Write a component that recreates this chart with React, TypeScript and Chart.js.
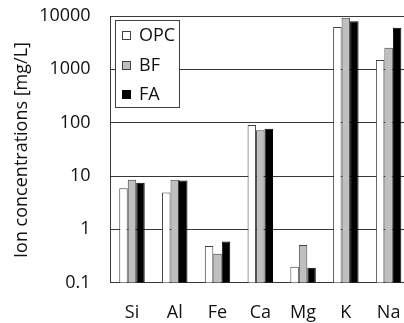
import React, { useEffect, useRef } from "react";
import { Chart, registerables } from "chart.js";

Chart.register(...registerables);

const categories = ["Si", "Al", "Fe", "Ca", "Mg", "K", "Na"];
const opcValues = [5.9, 4.9, 0.49, 90, 0.2, 6200, 1500];
const bfValues = [8.5, 8.5, 0.35, 72, 0.51, 9300, 2550];
const faValues = [7.5, 8.2, 0.59, 77, 0.19, 7950, 6050];
const yTickValues = [0.1, 1, 10, 100, 1000, 10000];
const yTickLabels = ["0.1", "1", "10", "100", "1000", "10000"];
const yTitle = "Ion concentrations [mg/L]";

const FONT = "'Open Sans', sans-serif";
const FS = 18;

const overlayPlugin = {
  id: "overlay",
  afterDraw(chart: any) {
    const ctx = chart.ctx;
    ctx.save();
    // legend box
    const bx = 115.5, by = 20.5, bw = 64, bh = 87;
    ctx.fillStyle = "#ffffff";
    ctx.fillRect(bx, by, bw, bh);
    ctx.strokeStyle = "#404040";
    ctx.lineWidth = 1;
    ctx.strokeRect(bx, by, bw, bh);
    const rows = [35, 65, 94];
    chart.data.datasets.forEach((ds: any, i: number) => {
      const y = rows[i];
      ctx.fillStyle = ds.backgroundColor;
      ctx.fillRect(122, y - 4, 8, 8);
      ctx.strokeStyle = ds.borderColor;
      ctx.strokeRect(122.5, y - 3.5, 8, 8);
      ctx.fillStyle = "#111111";
      ctx.font = `${FS}px ${FONT}`;
      ctx.textAlign = "left";
      ctx.textBaseline = "middle";
      ctx.fillText(ds.label, 139, y + 1);
    });
    // y title
    ctx.translate(22, 150);
    ctx.rotate(-Math.PI / 2);
    ctx.fillStyle = "#111111";
    ctx.font = `${FS}px ${FONT}`;
    ctx.textAlign = "center";
    ctx.textBaseline = "middle";
    ctx.fillText(yTitle, 0, 0);
    ctx.restore();
  },
};

export default function App() {
  const ref = useRef<HTMLCanvasElement | null>(null);
  useEffect(() => {
    if (!ref.current) return;
    const chart = new Chart(ref.current, {
      type: "bar",
      data: {
        labels: categories,
        datasets: [
          { label: "OPC", data: opcValues, backgroundColor: "#ffffff", borderColor: "#404040", borderWidth: 1 },
          { label: "BF", data: bfValues, backgroundColor: "#bfbfbf", borderColor: "#404040", borderWidth: 1 },
          { label: "FA", data: faValues, backgroundColor: "#000000", borderColor: "#000000", borderWidth: 1 },
        ],
      },
      options: {
        animation: false,
        responsive: false,
        maintainAspectRatio: false,
        layout: { padding: { top: 16, right: 10, left: 0, bottom: 0 } },
        datasets: { bar: { barPercentage: 1.0, categoryPercentage: 0.595 } },
        plugins: { legend: { display: false }, tooltip: { enabled: false } },
        scales: {
          x: {
            grid: { display: false, drawTicks: false },
            border: { display: true, color: "#383838", width: 1 },
            ticks: { color: "#111111", font: { family: FONT, size: FS }, padding: 19 },
            afterFit: (s: any) => {
              s.height = 40.3;
              s.paddingLeft = 0;
              s.paddingRight = 0;
            },
          },
          y: {
            type: "logarithmic",
            min: 0.1,
            max: 10000,
            afterBuildTicks: (s: any) => { s.ticks = yTickValues.map((v) => ({ value: v })); },
            grid: { color: "#383838", lineWidth: 1, drawTicks: false },
            border: { display: true, color: "#383838", width: 1 },
            ticks: {
              color: "#111111",
              font: { family: FONT, size: FS },
              padding: 20,
              callback: (v: any) => {
                const i = yTickValues.indexOf(Number(v));
                return i >= 0 ? yTickLabels[i] : "";
              },
            },
            afterFit: (s: any) => {
              s.width = 110.6;
              s.paddingTop = 0;
              s.paddingBottom = 0;
            },
          },
        },
      },
      plugins: [overlayPlugin],
    });
    return () => chart.destroy();
  }, []);
  return (
    <div style={{ position: "absolute", left: 0, top: 0, width: 404, height: 323, overflow: "hidden" }}>
      <canvas ref={ref} width={420} height={323} style={{ display: "block" }} />
    </div>
  );
}
